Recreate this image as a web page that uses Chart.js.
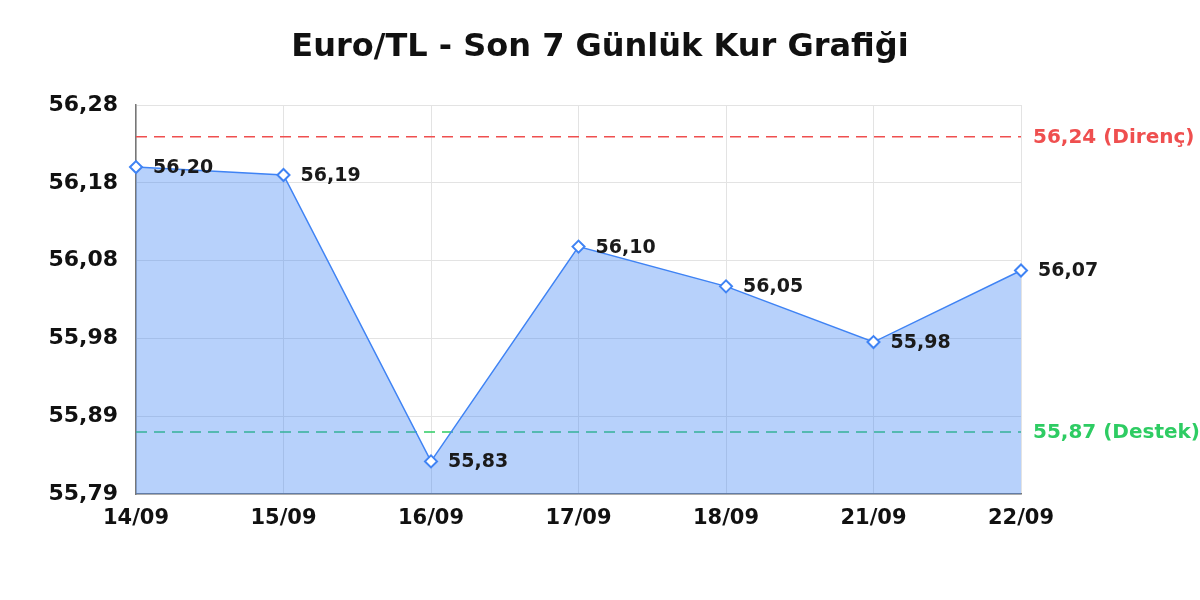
<!DOCTYPE html>
<html lang="tr">
<head>
<meta charset="utf-8">
<title>Euro/TL - Son 7 Günlük Kur Grafiği</title>
<script src="https://cdn.jsdelivr.net/npm/chart.js@4.4.1/dist/chart.umd.min.js"></script>
<style>
    html, body { margin: 0; padding: 0; background: #fff; }
    #wrap { width: 1200px; height: 600px; }
</style>
</head>
<body>
<div id="wrap"><canvas id="kurChart" width="1200" height="600"></canvas></div>
<script>
// Son 7 günün kur verileri
const dates = ['14/09', '15/09', '16/09', '17/09', '18/09', '21/09', '22/09'];
const rates = [56.20, 56.19, 55.83, 56.10, 56.05, 55.98, 56.07];

// Direnç / destek seviyeleri
const levelValues = [56.238, 55.867];
const levelNames = ['Direnç', 'Destek'];
const levelColors = ['#ef4f4f', '#2ecc63'];

// y ekseni sınırları (5 eşit aralık)
const yMin = 55.789;
const yMax = 56.278;
const yStepCount = 5;

const titleText = 'Euro/TL - Son 7 Günlük Kur Grafiği';
const FONT = "\"DejaVu Sans\", Verdana, sans-serif";
const fmt = (v) => v.toFixed(2).replace('.', ',');

// başlık tüm tuvalin ortasında
const canvasTitle = {
    id: 'canvasTitle',
    afterDraw(chart) {
        const ctx = chart.ctx;
        ctx.save();
        ctx.font = 'bold 32px ' + FONT;
        ctx.fillStyle = '#111';
        ctx.textAlign = 'center';
        ctx.textBaseline = 'middle';
        ctx.fillText(titleText, chart.width / 2, 48);
        ctx.restore();
    }
};

// noktaların sağına değer etiketleri
const valueLabels = {
    id: 'valueLabels',
    afterDatasetsDraw(chart) {
        const ctx = chart.ctx;
        const meta = chart.getDatasetMeta(0);
        ctx.save();
        ctx.font = 'bold 19px ' + FONT;
        ctx.fillStyle = '#1a1a1a';
        ctx.textAlign = 'left';
        ctx.textBaseline = 'middle';
        meta.data.forEach((pt, i) => {
            ctx.fillText(fmt(rates[i]), pt.x + 17, pt.y + 1);
        });
        ctx.restore();
    }
};

// kesikli direnç / destek çizgileri
const levelLines = {
    id: 'levelLines',
    beforeDatasetsDraw(chart) {
        const { ctx, chartArea, scales } = chart;
        ctx.save();
        levelValues.forEach((v, i) => {
            const y = scales.y.getPixelForValue(v);
            ctx.strokeStyle = levelColors[i];
            ctx.lineWidth = 1.5;
            ctx.setLineDash([11, 7]);
            ctx.beginPath();
            ctx.moveTo(chartArea.left, y);
            ctx.lineTo(chartArea.right, y);
            ctx.stroke();
        });
        ctx.restore();
    },
    afterDraw(chart) {
        const { ctx, chartArea, scales } = chart;
        ctx.save();
        ctx.font = 'bold 20px ' + FONT;
        ctx.textAlign = 'left';
        ctx.textBaseline = 'middle';
        levelValues.forEach((v, i) => {
            const y = scales.y.getPixelForValue(v);
            ctx.fillStyle = levelColors[i];
            ctx.fillText(fmt(v) + ' (' + levelNames[i] + ')', chartArea.right + 12, y + 1);
        });
        ctx.restore();
    }
};

function drawChart() {
    const ctx = document.getElementById('kurChart').getContext('2d');
    new Chart(ctx, {
        type: 'line',
        data: {
            labels: dates,
            datasets: [{
                data: rates,
                borderColor: '#3f83f4',
                backgroundColor: 'rgba(66, 133, 244, 0.38)',
                borderWidth: 1.5,
                fill: 'start',
                tension: 0,
                pointStyle: 'rectRot',
                pointRadius: 6,
                pointBorderWidth: 2,
                pointBackgroundColor: '#ffffff',
                pointBorderColor: '#3f83f4'
            }]
        },
        options: {
            responsive: false,
            animation: false,
            layout: {
                padding: { left: 10, right: 179, top: 105, bottom: 66 }
            },
            plugins: {
                legend: { display: false },
                tooltip: { enabled: false },
                title: { display: false }
            },
            scales: {
                x: {
                    offset: false,
                    grid: { color: '#e3e3e3', drawTicks: false },
                    border: { color: '#777', width: 1.5 },
                    ticks: {
                        color: '#111',
                        padding: 12,
                        maxRotation: 0,
                        font: { family: FONT, size: 21, weight: 'bold' }
                    },
                    afterFit(scale) { scale.height = 40; }
                },
                y: {
                    min: yMin,
                    max: yMax,
                    grid: { color: '#e3e3e3', drawTicks: false },
                    border: { color: '#777', width: 1.5 },
                    ticks: {
                        color: '#111',
                        padding: 18,
                        font: { family: FONT, size: 22, weight: 'bold' },
                        callback: (v) => fmt(v)
                    },
                    afterBuildTicks(scale) {
                        const step = (yMax - yMin) / yStepCount;
                        scale.ticks = Array.from({ length: yStepCount + 1 }, (_, i) => ({ value: yMin + i * step }));
                    },
                    afterFit(scale) { scale.width = 126; }
                }
            }
        },
        plugins: [levelLines, valueLabels, canvasTitle]
    });
}

// yerel yazı tipini önceden yükle, sonra çiz
if (document.fonts && document.fonts.load) {
    Promise.all([
        document.fonts.load('bold 28px "DejaVu Sans"'),
        document.fonts.load('28px "DejaVu Sans"')
    ]).then(drawChart, drawChart);
} else {
    drawChart();
}
</script>
</body>
</html>
